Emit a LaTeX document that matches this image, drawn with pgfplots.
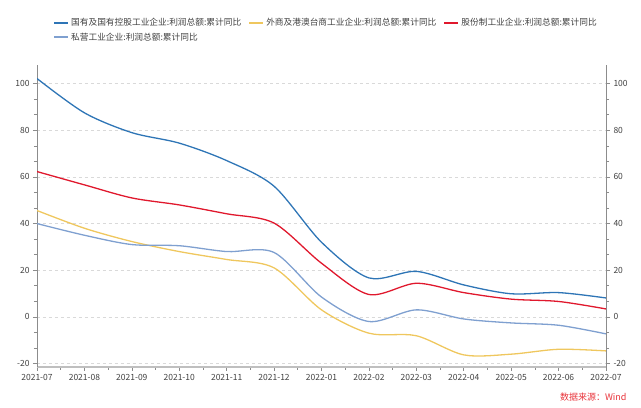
\documentclass[border=0pt]{standalone}
\usepackage{fontspec}
\setmainfont{Noto Sans CJK SC}
\usepackage{pgfplots}
\usepackage{pgfplotstable}
\pgfplotsset{compat=1.18}
\definecolor{cBlue}{HTML}{2E75B6}
\definecolor{cYel}{HTML}{EFC75E}
\definecolor{cRed}{HTML}{E0182D}
\definecolor{cLB}{HTML}{7FA0D0}
\definecolor{cTxt}{HTML}{404040}
\definecolor{cSrc}{HTML}{E8333A}
\pgfplotstableread{
x blue red yel lb
0 102.2 62.3 45.6 40.0
1 87.5 56.6 38.0 35.0
2 79.0 51.0 32.3 31.0
3 74.5 48.0 28.0 30.5
4 67.0 44.2 24.6 28.0
5 56.0 40.2 21.0 27.6
6 32.0 23.0 3.0 8.5
7 16.7 9.6 -7.0 -2.0
8 19.5 14.4 -8.1 3.0
9 13.7 10.4 -16.3 -0.9
10 9.9 7.6 -16.0 -2.6
11 10.4 6.6 -13.9 -3.6
12 8.1 3.4 -14.6 -7.3
}\data
\begin{document}
\begin{tikzpicture}
\useasboundingbox (0,0) rectangle (641bp,408bp);
\pgfplotsset{
  common/.style={
    at={(37bp,41bp)}, anchor=south west, scale only axis,
    width=569bp, height=302bp,
    xmin=0, xmax=12, ymin=-21.5, ymax=108,
    ytick={-20,0,20,40,60,80,100},
    minor y tick num=2,
    tick align=outside,
    major tick length=4bp, minor tick length=3bp,
    tick style={color=black!45, line width=0.6bp},
    /pgf/number format/assume math mode=true,
    ticklabel style={font=\fontsize{8.5bp}{10bp}\selectfont, text=cTxt},
  }
}
\begin{axis}[common,
  axis y line*=left, axis x line*=bottom,
  y axis line style={color=black!45, line width=0.8bp},
  x axis line style={color=black!25, line width=1.6bp},
  xtick={0,...,12},
  xticklabels={2021-07,2021-08,2021-09,2021-10,2021-11,2021-12,2022-01,2022-02,2022-03,2022-04,2022-05,2022-06,2022-07},
  minor x tick num=1,
  ymajorgrids, grid style={dashed, color=black!15, line width=0.5bp},
  legend columns=3,
  legend style={at={(rel axis cs:0.0228,1.162)}, anchor=north west, draw=none, fill=none,
    font=\fontsize{8.7bp}{10bp}\selectfont, text=cTxt,
    column sep=0pt, row sep=5.5bp,
    /tikz/every even column/.append style={column sep=5bp},
    nodes={inner sep=0pt, inner xsep=2bp}},
  legend cell align=left,
  legend image code/.code={\draw[#1, line width=2bp] (0bp,0bp) -- (14bp,0bp);},
  every axis plot/.append style={line width=1.3bp, no markers},
]
\addplot[cBlue, smooth, tension=0.5] table[x=x, y=blue] {\data};
\addlegendentry{国有及国有控股工业企业:利润总额:累计同比}
\addplot[cYel, smooth, tension=0.5] table[x=x, y=yel] {\data};
\addlegendentry{外商及港澳台商工业企业:利润总额:累计同比}
\addplot[cRed, smooth, tension=0.5] table[x=x, y=red] {\data};
\addlegendentry{股份制工业企业:利润总额:累计同比}
\addplot[cLB, smooth, tension=0.5] table[x=x, y=lb] {\data};
\addlegendentry{私营工业企业:利润总额:累计同比}
\node[font=\fontsize{8.5bp}{10bp}\selectfont, text=cTxt] at (rel axis cs:0,1) [yshift=13bp] {\%};
\end{axis}
\begin{axis}[common,
  axis y line*=right, axis x line=none,
  y axis line style={color=black!45, line width=0.8bp},
  xtick=\empty,
]
\addplot[draw=none] coordinates {(0,0)};
\node[font=\fontsize{8.5bp}{10bp}\selectfont, text=cTxt] at (rel axis cs:1,1) [yshift=13bp] {\%};
\end{axis}
\node[anchor=east, text=cSrc, font=\fontsize{9bp}{11bp}\selectfont] at (630bp,11bp) {数据来源：Wind};
\end{tikzpicture}
\end{document}
